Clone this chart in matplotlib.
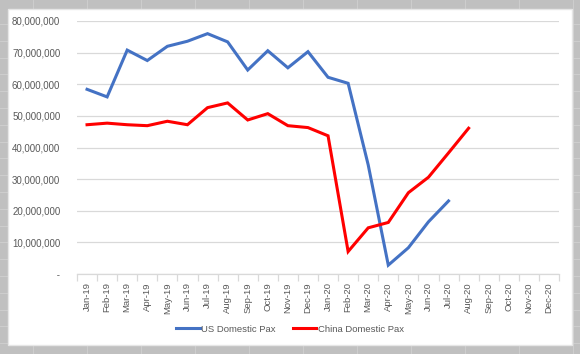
import numpy as np
import matplotlib
matplotlib.use("Agg")
import matplotlib.pyplot as plt
from matplotlib.patches import Rectangle
from matplotlib.lines import Line2D
from matplotlib.ticker import FuncFormatter

months = ["Jan-19", "Feb-19", "Mar-19", "Apr-19", "May-19", "Jun-19", "Jul-19", "Aug-19",
          "Sep-19", "Oct-19", "Nov-19", "Dec-19", "Jan-20", "Feb-20", "Mar-20", "Apr-20",
          "May-20", "Jun-20", "Jul-20", "Aug-20", "Sep-20", "Oct-20", "Nov-20", "Dec-20"]

# millions of passengers
us_pax = [58.4, 56.0, 70.8, 67.5, 72.0, 73.6, 76.0, 73.4, 64.5, 70.6, 65.2, 70.3,
          62.2, 60.3, 34.5, 2.8, 8.3, 16.5, 23.1]
china_pax = [47.2, 47.7, 47.2, 46.9, 48.3, 47.2, 52.6, 54.1, 48.7, 50.7, 46.9, 46.3,
             43.7, 7.1, 14.6, 16.3, 25.7, 30.6, 38.3, 46.1]

plt.rcParams['font.family'] = ['Liberation Sans', 'DejaVu Sans']
txt = '#595959'
grid_c = '#D9D9D9'

fig = plt.figure(figsize=(5.8, 3.54), dpi=100)
fig.patch.set_facecolor('#C0C0C0')

# spreadsheet cell lines in the grey margin
for gx in np.arange(33, 580, 54):
    fig.add_artist(Line2D([gx / 580, gx / 580], [0, 1], color='#D0D0D0', lw=0.6, zorder=-3))
for gy in np.arange(24, 354, 16.8):
    fig.add_artist(Line2D([0, 1], [1 - gy / 354, 1 - gy / 354], color='#D0D0D0', lw=0.6, zorder=-3))
fig.add_artist(Rectangle((8 / 580, 9 / 354), 564 / 580, 336 / 354, transform=fig.transFigure,
                         facecolor='white', edgecolor='#E6E6E6', lw=1, zorder=-2))

ax = fig.add_axes([77 / 580, 1 - 274 / 354, 482 / 580, 253 / 354])
ax.set_facecolor('none')

x = np.arange(len(months))
ax.plot(x[:len(us_pax)], np.array(us_pax) * 1e6, color='#4472C4', lw=2.2,
        label='US Domestic Pax', solid_joinstyle='miter')
ax.plot(x[:len(china_pax)], np.array(china_pax) * 1e6, color='#FF0000', lw=2.2,
        label='China Domestic Pax', solid_joinstyle='miter')

ax.set_xlim(-0.5, len(months) - 0.5)
ax.set_ylim(0, 80e6)
ax.set_yticks(np.arange(0, 80e6 + 1, 10e6))
ax.yaxis.set_major_formatter(FuncFormatter(lambda v, p: ' -' if v == 0 else f'{v:,.0f}'))
ax.grid(axis='y', color=grid_c, lw=0.9)
ax.set_axisbelow(True)

ax.set_xticks(x)
ax.set_xticklabels(months, rotation=90, fontsize=6.8, color=txt)
ax.set_xticks(np.arange(-0.5, len(months), 1), minor=True)
ax.tick_params(axis='x', which='major', length=0, pad=6)
ax.tick_params(axis='x', which='minor', length=5, color=grid_c, width=0.9)
ax.tick_params(axis='y', length=0, pad=12, labelsize=7, labelcolor=txt)

for s in ['top', 'right', 'left']:
    ax.spines[s].set_visible(False)
ax.spines['bottom'].set_color(grid_c)
ax.spines['bottom'].set_linewidth(0.9)

leg = fig.legend(loc='center', bbox_to_anchor=(0.5, 1 - 329 / 354), ncol=2, frameon=False,
                 fontsize=6.8, handlelength=2.5, handletextpad=0.15, columnspacing=1.8)
for t in leg.get_texts():
    t.set_color(txt)

fig.savefig('out.png', dpi=100, facecolor=fig.get_facecolor())
